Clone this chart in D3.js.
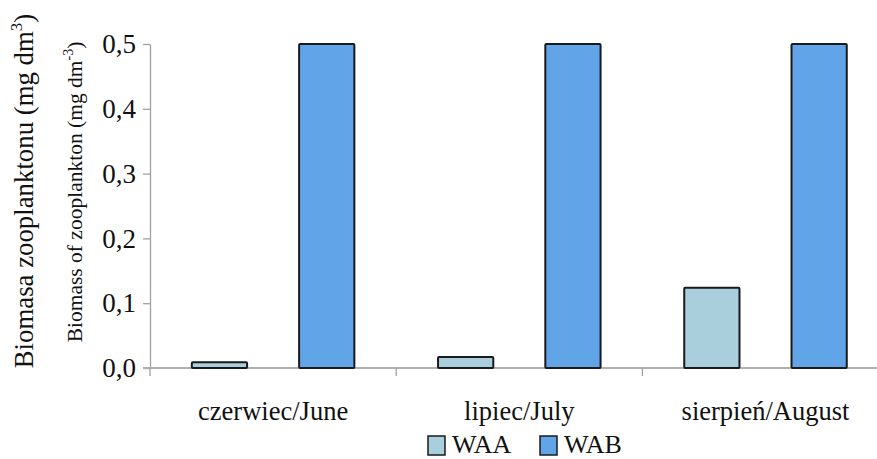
<!DOCTYPE html>
<html><head><meta charset="utf-8">
<script src="https://cdn.jsdelivr.net/npm/d3@7/dist/d3.min.js"></script>
<style>body{margin:0;background:#fff}svg{display:block}</style>
</head><body><svg id="c" width="877" height="459"></svg>
<script>
const categories = ["czerwiec/June", "lipiec/July", "sierpień/August"];
const series = ["WAA", "WAB"];
const WAA = [0.009, 0.017, 0.124];
const WAB = [0.5, 0.5, 0.5];
const yTicks = [0, 0.1, 0.2, 0.3, 0.4, 0.5];
const colors = {WAA: "#a9cedc", WAB: "#62a4e8"};
const values = {WAA, WAB};

(function () {
const FONT = "'Liberation Serif', 'Times New Roman', 'DejaVu Serif', serif";
const svg = d3.select("#c");
const mLeft = 150, mTop = 44, mBottom = 368;
const step = 246.2;
const x0 = d3.scaleBand().domain(categories).range([mLeft, mLeft + step * categories.length]).padding(0);
const x1 = d3.scaleBand().domain(series).range([0, x0.bandwidth()]).paddingInner(0.485).paddingOuter(0.39);
const y = d3.scaleLinear().domain([0, 0.5]).range([mBottom, mTop]);

const yAxis = d3.axisLeft(y).tickValues(yTicks).tickSize(7).tickSizeOuter(0)
  .tickFormat(d => d3.format(".1f")(d).replace(".", ","));
const gy = svg.append("g").attr("transform", `translate(${mLeft},0)`).call(yAxis).attr("font-family", null);
gy.select(".domain").attr("stroke", "#a0a0a0").attr("stroke-width", 1.3);
gy.selectAll(".tick line").attr("stroke", "#a0a0a0").attr("stroke-width", 1.3);
gy.selectAll(".tick text").attr("x", -14).style("font-family", FONT).style("font-size", "27px").attr("fill", "#111");

const xAxis = d3.axisBottom(x0).tickSize(0).tickSizeOuter(0);
const gx = svg.append("g").attr("transform", `translate(0,${mBottom})`).call(xAxis).attr("font-family", null);
gx.select(".domain").attr("stroke", "#b0b0b0").attr("stroke-width", 2).attr("d", `M${mLeft - 7},0H877`);
gx.selectAll(".tick text").attr("y", 52).attr("dy", "0").style("font-family", FONT).style("font-size", "26.5px").attr("fill", "#111");
svg.append("g").selectAll("line").data(categories).join("line")
  .attr("x1", d => x0(d)).attr("x2", d => x0(d))
  .attr("y1", mBottom).attr("y2", mBottom + 8)
  .attr("stroke", "#a0a0a0").attr("stroke-width", 1.3);

const g = svg.append("g");
categories.forEach((c, i) => {
  series.forEach(s => {
    const v = values[s][i];
    g.append("rect")
      .attr("x", x0(c) + x1(s))
      .attr("y", y(v))
      .attr("width", x1.bandwidth())
      .attr("height", y(0) - y(v))
      .attr("fill", colors[s])
      .attr("stroke", "#1a1a1a")
      .attr("stroke-width", 2)
      .attr("rx", 1);
  });
});

const t1 = svg.append("text").attr("transform", "translate(33,191) rotate(-90)")
  .attr("text-anchor", "middle").style("font-family", FONT).style("font-size", "26.8px").attr("fill", "#111");
t1.append("tspan").text("Biomasa zooplanktonu (mg dm");
t1.append("tspan").attr("dy", -11).style("font-size", "17px").text("3");
t1.append("tspan").attr("dy", 11).text(")");

const t2 = svg.append("text").attr("transform", "translate(82,192) rotate(-90)")
  .attr("text-anchor", "middle").style("font-family", FONT).style("font-size", "21.5px").attr("fill", "#111");
t2.append("tspan").text("Biomass of zooplankton (mg dm");
t2.append("tspan").attr("dy", -9).style("font-size", "14px").text("-3");
t2.append("tspan").attr("dy", 9).text(")");

const legX = [428, 540];
series.forEach((s, i) => {
  svg.append("rect").attr("x", legX[i]).attr("y", 436).attr("width", 17).attr("height", 19)
    .attr("fill", colors[s]).attr("stroke", "#1a1a1a").attr("stroke-width", 1.5);
  svg.append("text").attr("x", legX[i] + 24).attr("y", 453).style("font-family", FONT).style("font-size", "26px").attr("fill", "#111").text(s);
});
})();
</script></body></html>
